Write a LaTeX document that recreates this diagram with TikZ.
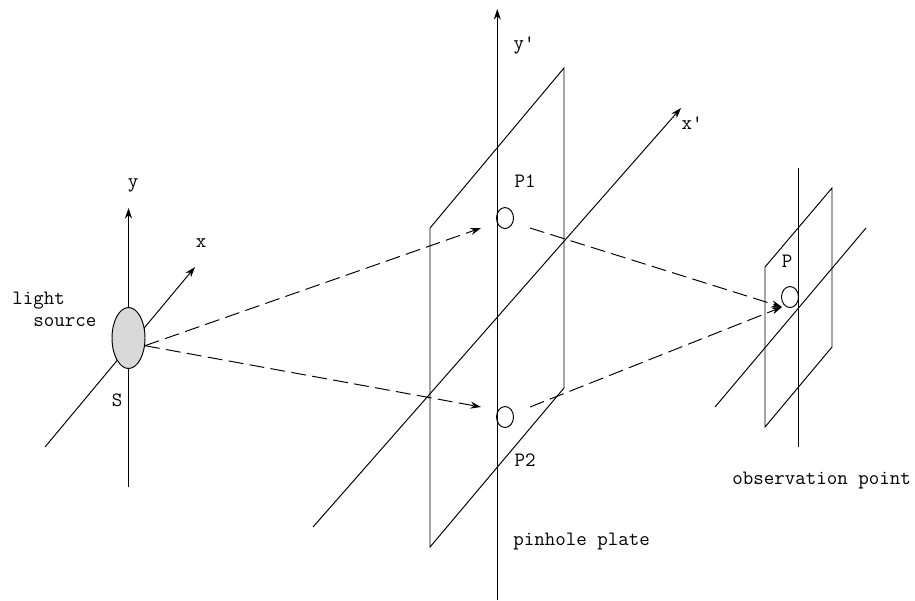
\documentclass[tikz,border=0pt]{standalone}
\usepackage{tikz}
\usetikzlibrary{arrows.meta,shapes.geometric}
\definecolor{sourcegray}{HTML}{D9D9D9}
\tikzset{
    axisline/.style={line width=0.55pt},
    rayline/.style={line width=0.55pt,dash pattern=on 8.5pt off 3.6pt,-{Stealth[length=6pt,width=4pt]}},
    hole/.style={draw,ellipse,line width=0.55pt,minimum width=0.34cm,minimum height=0.42cm,inner sep=0pt},
    lbl/.style={font=\ttfamily\fontsize{11.6}{13}\selectfont,inner sep=0pt}
}

\begin{document}
\begin{tikzpicture}[x=0.02cm,y=-0.02cm,>={Stealth[length=6pt,width=4pt]}]
    \useasboundingbox (0,0) rectangle (915,600);

    % Source axes
    \coordinate (ylow) at (128.5,487);
    \coordinate (ytop) at (128.5,208);
    \coordinate (xlow) at (45,447);
    \coordinate (xtop) at (195,267);
    \draw[axisline,->] (ylow) -- (ytop);
    \draw[axisline,->] (xlow) -- (xtop);

    % Light source
    \node[draw,ellipse,fill=sourcegray,line width=0.55pt,minimum width=0.66cm,minimum height=1.22cm,inner sep=0pt] (source) at (128.5,338) {};
    \node[lbl] (ylabel) at (133,185) {y};
    \node[lbl] (xlabel) at (201,243) {x};
    \node[lbl,anchor=west] (lightlabel) at (12,301) {light};
    \node[lbl,anchor=west] (sourcelabel) at (33,322) {source};
    \node[lbl] (slabel) at (117,400) {S};

    % Pinhole plate
    \draw[axisline] (430,228) coordinate (plateA) -- (564,68) coordinate (plateB)
        -- (564,388) coordinate (plateC) -- (430,547) coordinate (plateD) -- cycle;
    \coordinate (yplow) at (497.3,600);
    \coordinate (yptop) at (497.3,9);
    \coordinate (xplow) at (313,527);
    \coordinate (xptop) at (681,108);
    \draw[axisline,->] (yplow) -- (yptop);
    \draw[axisline,->] (xplow) -- (xptop);
    \node[hole] (pone) at (505,218) {};
    \node[hole] (ptwo) at (505,417) {};
    \node[lbl] (yplabel) at (524,45) {y'};
    \node[lbl] (xplabel) at (692,123) {x'};
    \node[lbl] (ponelabel) at (525,181) {P1};
    \node[lbl] (ptwolabel) at (525,460) {P2};
    \node[lbl,anchor=west] (platelabel) at (513,542) {pinhole plate};

    % Observation plate
    \draw[axisline] (765,267) coordinate (obsA) -- (832,188) coordinate (obsB)
        -- (832,347) coordinate (obsC) -- (765,427) coordinate (obsD) -- cycle;
    \coordinate (vlow) at (798.5,447);
    \coordinate (vtop) at (798.5,168);
    \coordinate (dlow) at (715,407);
    \coordinate (dtop) at (866,228);
    \draw[axisline] (vlow) -- (vtop);
    \draw[axisline] (dlow) -- (dtop);
    \node[hole] (obs) at (790,297) {};
    \node[lbl] (obslabel) at (787,261) {P};
    \node[lbl,anchor=west] (pointlabel) at (732,481) {observation point};

    % Rays
    \coordinate (ponein) at (481,228);
    \coordinate (ptwoin) at (481,407);
    \coordinate (poneout) at (530,228);
    \coordinate (ptwoout) at (530,407);
    \coordinate (obsin) at (782,307);
    \draw[rayline] (source.-25) -- (ponein);
    \draw[rayline] (source.-25) -- (ptwoin);
    \draw[rayline] (poneout) -- (obsin);
    \draw[rayline] (ptwoout) -- (obsin);
\end{tikzpicture}
\end{document}
